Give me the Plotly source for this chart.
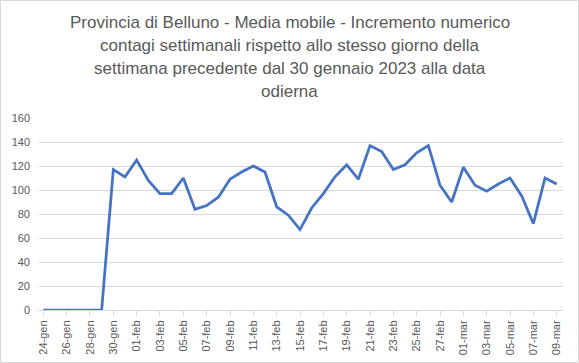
import plotly.graph_objects as go

# Categories (days, 24 Jan - 9 Mar 2023)
days = [
    "24-gen", "25-gen", "26-gen", "27-gen", "28-gen", "29-gen", "30-gen", "31-gen",
    "01-feb", "02-feb", "03-feb", "04-feb", "05-feb", "06-feb", "07-feb", "08-feb",
    "09-feb", "10-feb", "11-feb", "12-feb", "13-feb", "14-feb", "15-feb", "16-feb",
    "17-feb", "18-feb", "19-feb", "20-feb", "21-feb", "22-feb", "23-feb", "24-feb",
    "25-feb", "26-feb", "27-feb", "28-feb", "01-mar", "02-mar", "03-mar", "04-mar",
    "05-mar", "06-mar", "07-mar", "08-mar", "09-mar",
]

values = [
    0, 0, 0, 0, 0, 0, 117, 111,
    125, 108, 97, 97, 110, 84, 87, 94,
    109, 115, 120, 115, 86, 79, 67, 85,
    97, 111, 121, 109, 137, 132, 117, 121,
    131, 137, 104, 90, 119, 104, 99, 105,
    110, 95, 72, 110, 105,
]

tick_labels = days[::2]

title_lines = [
    "Provincia di Belluno - Media mobile - Incremento numerico",
    "contagi settimanali rispetto allo stesso giorno della",
    "settimana precedente dal 30 gennaio 2023 alla data",
    "odierna",
]

W, H = 579, 363
L, R, T, B = 39, 16, 118, 53
pw, ph = W - L - R, H - T - B

fig = go.Figure()
fig.add_trace(go.Scatter(
    x=days, y=values, mode="lines",
    line=dict(color="#4472C4", width=2.75),
    hoverinfo="x+y",
))

annotations = []
for i, line in enumerate(title_lines):
    y_px = 22 + i * 23.2  # vertical centre of each title line, in pixels from top
    annotations.append(dict(
        text=line, showarrow=False,
        xref="paper", yref="paper",
        x=(W / 2 - L) / pw, y=(T + ph - y_px) / ph,
        xanchor="center", yanchor="middle",
        font=dict(size=17, color="#595959", family="Liberation Sans, Arial, sans-serif"),
    ))

fig.update_layout(
    width=W, height=H,
    margin=dict(l=L, r=R, t=T, b=B, autoexpand=False),
    paper_bgcolor="white", plot_bgcolor="white",
    showlegend=False,
    font=dict(family="Liberation Sans, Arial, sans-serif", color="#595959"),
    annotations=annotations,
    xaxis=dict(
        type="category",
        categoryorder="array", categoryarray=days,
        range=[-0.37, len(days) - 1 + 0.54],
        tickmode="array", tickvals=tick_labels, ticktext=tick_labels,
        tickangle=-90,
        tickfont=dict(size=11, color="#595959"),
        showgrid=False,
        showline=True, linecolor="#D9D9D9", linewidth=1,
        ticks="outside", ticklen=5, tickcolor="#D9D9D9",
        zeroline=False, automargin=False,
        fixedrange=True,
    ),
    yaxis=dict(
        range=[0, 160],
        tickmode="array", tickvals=list(range(0, 161, 20)),
        tickfont=dict(size=11, color="#595959"),
        showgrid=True, gridcolor="#D9D9D9", gridwidth=1,
        zeroline=False, showline=False,
        ticks="", ticklabelstandoff=8,
        automargin=False,
        fixedrange=True,
    ),
    shapes=[dict(
        type="rect", xref="paper", yref="paper",
        x0=(0.5 - L) / pw, x1=(W - 0.5 - L) / pw,
        y0=(T + ph - (H - 0.5)) / ph, y1=(T + ph - 0.5) / ph,
        line=dict(color="#D9D9D9", width=1), fillcolor="rgba(0,0,0,0)",
        layer="below",
    )],
)

fig.write_html(
    "out.html",
    config={"displayModeBar": False},
    post_script="document.body.style.margin='0';document.body.style.overflow='hidden';",
)
